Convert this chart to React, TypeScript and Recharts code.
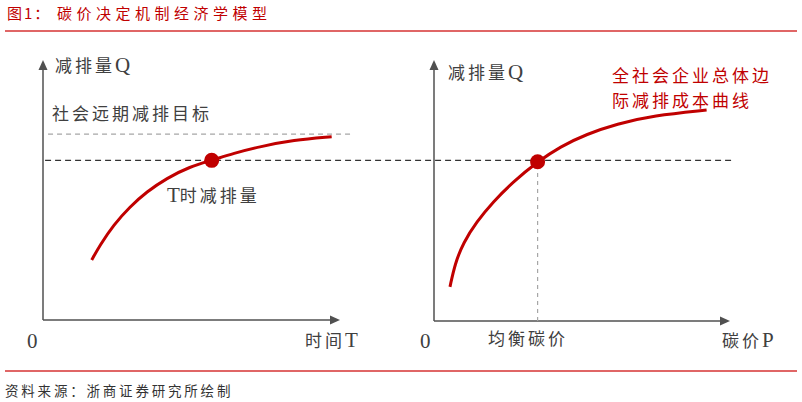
import React from "react";
import { LineChart, Line, XAxis, YAxis, ReferenceLine, ReferenceDot } from "recharts";

// Left panel: emission reduction Q over time T
const leftCurve = [
  { t: 16.4, q: 23.1 },
  { t: 19.2, q: 28.8 },
  { t: 23.7, q: 36.5 },
  { t: 29.3, q: 43.6 },
  { t: 34.9, q: 49.3 },
  { t: 41.6, q: 54.5 },
  { t: 49.5, q: 59.0 },
  { t: 56.8, q: 61.4 },
  { t: 64.1, q: 64.1 },
  { t: 73.1, q: 66.7 },
  { t: 84.3, q: 69.2 },
  { t: 97.2, q: 70.5 },
];
const leftPoint = { t: 56.8, q: 61.4 };
const targetQ = 71.5;
const targetSpan = [1.7, 104];
const levelSpan = [0.7, 232];

// Right panel: emission reduction Q vs carbon price P
const rightCurve = [
  { p: 5.4, q: 13.1 },
  { p: 7.1, q: 22.0 },
  { p: 9.9, q: 30.0 },
  { p: 14.4, q: 38.0 },
  { p: 20.0, q: 45.7 },
  { p: 26.8, q: 53.4 },
  { p: 35.0, q: 61.0 },
  { p: 42.6, q: 66.8 },
  { p: 51.6, q: 71.6 },
  { p: 61.7, q: 75.5 },
  { p: 74.1, q: 78.7 },
  { p: 92.1, q: 80.8 },
];
const rightPoint = { p: 35.0, q: 61.0 };

const RED = "#C00000";
const AXIS = "#505050";
const TEXT = "#404040";
const FONT = "'Liberation Serif', 'Noto Sans CJK SC', serif";

const upArrow = (props: any) => {
  const { cx, cy } = props;
  return <polygon points={`${cx},${cy} ${cx - 4.5},${cy + 10} ${cx + 4.5},${cy + 10}`} fill={AXIS} />;
};
const rightArrow = (props: any) => {
  const { cx, cy } = props;
  return <polygon points={`${cx},${cy} ${cx - 10},${cy - 4.5} ${cx - 10},${cy + 4.5}`} fill={AXIS} />;
};

const labelStyle = (left: number, cy: number, color = TEXT, size = 17, ls = 3): React.CSSProperties => ({
  position: "absolute",
  left,
  top: cy - 12,
  height: 24,
  lineHeight: "24px",
  fontSize: size,
  letterSpacing: ls,
  color,
  fontFamily: FONT,
  whiteSpace: "nowrap",
});

const Lat = ({ children }: { children: React.ReactNode }) => (
  <span style={{ fontSize: 21, letterSpacing: 0 }}>{children}</span>
);

export default function App() {
  return (
    <div style={{ position: "absolute", left: 0, top: 0, width: 802, height: 402, background: "#fff", overflow: "hidden" }}>
      {/* Title */}
      <div style={{ ...labelStyle(7, 13, RED, 15, 2), fontFamily: "'Noto Sans CJK SC', sans-serif" }}>图1：</div>
      <div style={{ ...labelStyle(57, 13, RED, 15, 4.5), fontFamily: "'Noto Sans CJK SC', sans-serif" }}>碳价决定机制经济学模型</div>
      <div style={{ position: "absolute", left: 5, top: 30, width: 792, height: 2, background: "#E06666" }} />

      {/* Left chart */}
      <div style={{ position: "absolute", left: 0, top: 0 }}>
        <LineChart width={802} height={402} data={leftCurve} margin={{ top: 60, bottom: 82, left: 43, right: 462 }}>
          <XAxis type="number" dataKey="t" domain={[0, 100]} allowDataOverflow hide />
          <YAxis type="number" domain={[0, 100]} allowDataOverflow hide />
          <ReferenceLine segment={[{ x: 0, y: 0 }, { x: 0, y: 97 }]} stroke={AXIS} strokeWidth={1.5} ifOverflow="visible" />
          <ReferenceLine segment={[{ x: 0, y: 0 }, { x: 97, y: 0 }]} stroke={AXIS} strokeWidth={1.5} ifOverflow="visible" />
          <ReferenceDot x={0} y={100} r={1} shape={upArrow} ifOverflow="visible" />
          <ReferenceDot x={100} y={0} r={1} shape={rightArrow} ifOverflow="visible" />
          <ReferenceLine
            segment={[{ x: targetSpan[0], y: targetQ }, { x: targetSpan[1], y: targetQ }]}
            stroke="#A6A6A6"
            strokeWidth={1.2}
            strokeDasharray="5 4"
            ifOverflow="visible"
          />
          <ReferenceLine
            segment={[{ x: levelSpan[0], y: leftPoint.q }, { x: levelSpan[1], y: leftPoint.q }]}
            stroke="#333"
            strokeWidth={1.2}
            strokeDasharray="6 4"
            ifOverflow="visible"
          />
          <Line type="basis" dataKey="q" stroke={RED} strokeWidth={3} dot={false} isAnimationActive={false} />
          <ReferenceDot x={leftPoint.t} y={leftPoint.q} r={7.5} fill={RED} stroke="none" ifOverflow="visible" />
        </LineChart>
      </div>

      {/* Right chart */}
      <div style={{ position: "absolute", left: 0, top: 0 }}>
        <LineChart width={802} height={402} data={rightCurve} margin={{ top: 60, bottom: 81, left: 434, right: 72 }}>
          <XAxis type="number" dataKey="p" domain={[0, 100]} allowDataOverflow hide />
          <YAxis type="number" domain={[0, 100]} allowDataOverflow hide />
          <ReferenceLine segment={[{ x: 0, y: 0 }, { x: 0, y: 97 }]} stroke={AXIS} strokeWidth={1.5} ifOverflow="visible" />
          <ReferenceLine segment={[{ x: 0, y: 0 }, { x: 97, y: 0 }]} stroke={AXIS} strokeWidth={1.5} ifOverflow="visible" />
          <ReferenceDot x={0} y={100} r={1} shape={upArrow} ifOverflow="visible" />
          <ReferenceDot x={100} y={0} r={1} shape={rightArrow} ifOverflow="visible" />
          <ReferenceLine
            segment={[{ x: rightPoint.p, y: 0 }, { x: rightPoint.p, y: rightPoint.q }]}
            stroke="#A6A6A6"
            strokeWidth={1.2}
            strokeDasharray="4 4"
            ifOverflow="visible"
          />
          <Line type="basis" dataKey="q" stroke={RED} strokeWidth={3} dot={false} isAnimationActive={false} />
          <ReferenceDot x={rightPoint.p} y={rightPoint.q} r={7.5} fill={RED} stroke="none" ifOverflow="visible" />
        </LineChart>
      </div>

      {/* Labels */}
      <div style={labelStyle(55, 65)}>减排量<Lat>Q</Lat></div>
      <div style={labelStyle(52, 115)}>社会远期减排目标</div>
      <div style={labelStyle(167, 195)}><Lat>T</Lat>时减排量</div>
      <div style={labelStyle(27, 341)}><Lat>0</Lat></div>
      <div style={labelStyle(305, 340)}>时间<Lat>T</Lat></div>

      <div style={labelStyle(448, 72)}>减排量<Lat>Q</Lat></div>
      <div style={labelStyle(612, 77, RED)}>全社会企业总体边</div>
      <div style={labelStyle(612, 102, RED)}>际减排成本曲线</div>
      <div style={labelStyle(420, 341)}><Lat>0</Lat></div>
      <div style={labelStyle(488, 340)}>均衡碳价</div>
      <div style={labelStyle(722, 340)}>碳价<Lat>P</Lat></div>

      {/* Footer */}
      <div style={{ position: "absolute", left: 5, top: 370, width: 792, height: 2, background: "#E06666" }} />
      <div style={{ ...labelStyle(5, 390, "#333", 13.5, 2.8), fontFamily: "'Noto Sans CJK SC', sans-serif" }}>资料来源：浙商证券研究所绘制</div>
    </div>
  );
}
